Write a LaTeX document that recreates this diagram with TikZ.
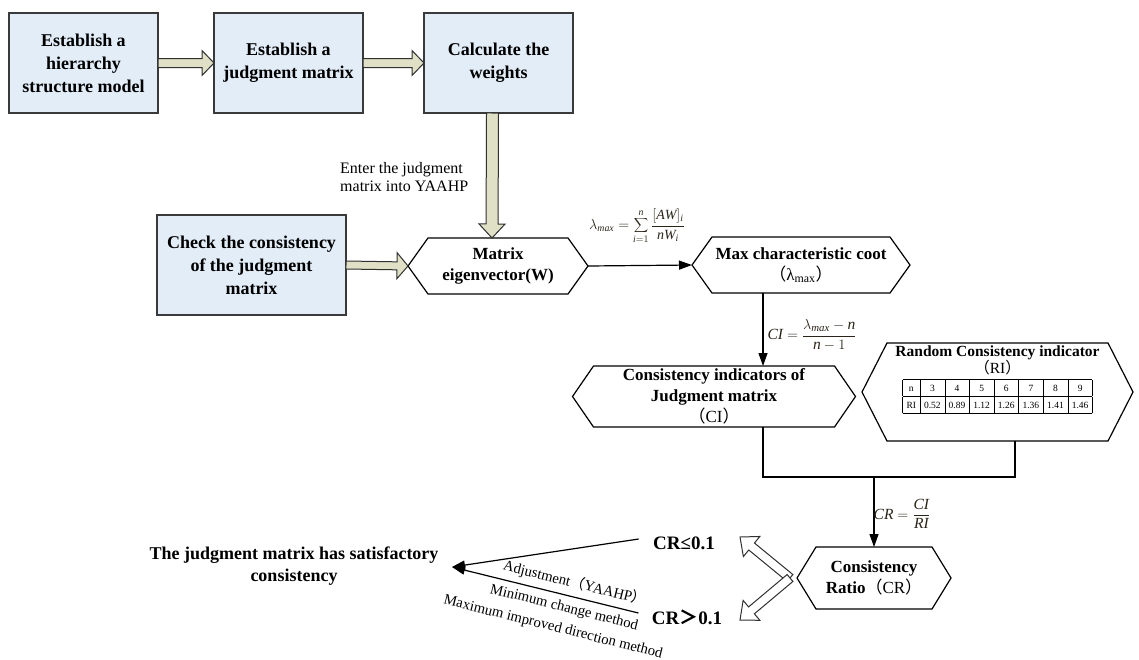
\documentclass[tikz,border=0pt]{standalone}
\usepackage{fontspec}
\setmainfont{Liberation Serif}
\newfontfamily\cjk{Noto Sans CJK SC}
\usetikzlibrary{calc,arrows.meta}
\definecolor{boxfill}{HTML}{E2EDF8}
\definecolor{boxline}{HTML}{3A3A3A}
\definecolor{arrfill}{HTML}{DFE0C6}
\definecolor{arrline}{HTML}{303030}
\definecolor{fcol}{HTML}{2A2418}
\newcommand\cpl{{\cjk （}}
\newcommand\cpr{{\cjk ）}}
\newcommand\mi[1]{\mathit{#1}}
\tikzset{
 box/.style={draw=boxline, fill=boxfill, line width=1.2pt, minimum width=149pt, minimum height=100pt,
   inner sep=0pt, outer sep=0pt, align=center, font=\fontsize{18}{23}\selectfont\bfseries},
 hexbody/.style={inner sep=0pt, outer sep=0pt, align=center, font=\fontsize{17}{21}\selectfont\bfseries},
 hexline/.style={line width=1.2pt, line join=miter},
 fat/.style n args={3}{draw=arrline, fill=arrfill, line width=1pt, line join=miter,
   to path={let \p3=($(\tikztotarget)!#3!(\tikztostart)$) in
     ($(\tikztostart)!#1!90:(\tikztotarget)$) -- ($(\p3)!#1!90:(\tikztotarget)$)
     -- ($(\p3)!#2!90:(\tikztotarget)$) -- (\tikztotarget)
     -- ($(\p3)!#2!-90:(\tikztotarget)$) -- ($(\p3)!#1!-90:(\tikztotarget)$)
     -- ($(\tikztostart)!#1!-90:(\tikztotarget)$) -- cycle}},
 hollow/.style n args={3}{fat={#1}{#2}{#3}, fill=white},
 thinarr/.style={line width=1.2pt, -{Triangle[length=13pt,width=9pt]}},
 conn/.style={line width=1.2pt},
 formula/.style={text=fcol, inner sep=0pt},
 slanted/.style={rotate=-14, inner sep=0pt, font=\fontsize{14.7}{17}\selectfont},
}
\newcommand\hexdraw[2]{\draw[hexline] (#1.north west) -- (#1.north east) -- ([xshift=#2]#1.east) coordinate (#1-r)
  -- (#1.south east) -- (#1.south west) -- ([xshift=-#2]#1.west) coordinate (#1-l) -- cycle;}
\begin{document}
\begin{tikzpicture}[x=1pt,y=-1pt]
\useasboundingbox (0,0) rectangle (1139,659);
% top boxes
\node[box] (b1) at (83.5,63) {Establish a\\hierarchy\\structure model};
\node[box] (b2) at (288.5,63) {Establish a\\judgment matrix};
\node[box] (b3) at (498.5,63) {Calculate the\\weights};
\node[box, minimum width=189pt] (chk) at (251.5,265) {Check the consistency\\of the judgment\\matrix};
% hexagons
\node[hexbody, minimum width=140pt, minimum height=56pt] (mat) at (498,266) {Matrix\\eigenvector(W)};
\hexdraw{mat}{20pt}
\node[hexbody, minimum width=178pt, minimum height=56pt] (mx) at (801,265) {Max characteristic coot\\{\mdseries\cpl λ\textsubscript{max}\cpr}};
\hexdraw{mx}{20pt}
\node[hexbody, minimum width=241pt, minimum height=61pt] (ci) at (714,396.5) {Consistency indicators of\\Judgment matrix\\{\mdseries\cpl CI\cpr}};
\hexdraw{ci}{21pt}
\node[hexbody, minimum width=221pt, minimum height=98pt] (ri) at (997.5,392) {};
\hexdraw{ri}{25pt}
\node[anchor=north, align=center, inner sep=0pt, font=\fontsize{15.5}{17}\selectfont\bfseries] (rit) at (997.5,346)
 {Random Consistency indicator\\{\mdseries\cpl RI\cpr}\\[3pt]
  {\mdseries\fontsize{9.5}{11}\selectfont\setlength\tabcolsep{4pt}\renewcommand\arraystretch{1.5}%
  \begin{tabular}{|c|c|c|c|c|c|c|c|}\hline
  n&3&4&5&6&7&8&9\\\hline
  RI&0.52&0.89&1.12&1.26&1.36&1.41&1.46\\\hline
  \end{tabular}}};
\node[hexbody, minimum width=116pt, minimum height=62pt] (cr) at (874,578) {Consistency\\Ratio{\mdseries\cpl CR\cpr}};
\hexdraw{cr}{19pt}
% fat arrows
\draw[fat={4.5pt}{12.5pt}{12pt}] (b1.east) to (b2.west);
\draw[fat={4.5pt}{12.5pt}{12pt}] (b2.east) to (b3.west);
\draw[fat={6pt}{13pt}{14pt}] ([xshift=-6pt]b3.south) to ([xshift=-6pt]mat.north);
\draw[fat={4pt}{13pt}{11pt}] (chk.east) to (mat-l);
\node[anchor=west, align=left, inner sep=0pt, font=\fontsize{16}{18.5}\selectfont] (ent) at (340,177) {Enter the judgment\\matrix into YAAHP};
% thin connectors
\draw[thinarr] (mat-r) -- (mx-l);
\node[formula, font=\fontsize{14}{16}\selectfont] (f1) at (637,226)
 {$\displaystyle\lambda_{\mi{max}}=\sum_{\mi{i}=1}^{\mi{n}}\frac{[\mi{AW}]_{\mi{i}}}{\mi{nW}_{\mi{i}}}$};
\coordinate (cx) at ([xshift=-38pt]mx.south);
\draw[thinarr] (cx) -- (cx |- ci.north);
\node[formula, font=\fontsize{15.5}{17}\selectfont] (f2) at (812,335)
 {$\displaystyle\mi{CI}=\frac{\lambda_{\mi{max}}-\mi{n}}{\mi{n}-1}$};
\coordinate (jl) at (763,477);
\coordinate (jr) at (1015,477);
\draw[conn] (ci.south -| jl) -- (jl) -- (jr) -- (ri.south -| jr);
\draw[thinarr] (cr.north |- jl) -- (cr.north);
\node[formula, font=\fontsize{15.5}{17}\selectfont] (f3) at (902,514) {$\displaystyle\mi{CR}=\frac{\mi{CI}}{\mi{RI}}$};
% decision
\coordinate (jn) at ([xshift=-7pt]cr-l);
\coordinate (up) at (740,537);
\coordinate (dn) at (740,620);
\draw[hollow={4.5pt}{13pt}{15pt}] (jn) to (up);
\draw[hollow={4.5pt}{13pt}{15pt}] (jn) to (dn);
\node[font=\fontsize{19}{22}\selectfont\bfseries] (le) at (684,543) {CR≤0.1};
\node[font=\fontsize{19}{22}\selectfont\bfseries] (gt) at (687,617) {CR{\cjk ＞}0.1};
\node[align=center, font=\fontsize{18}{22}\selectfont\bfseries] (sat) at (294,566) {The judgment matrix has satisfactory\\consistency};
\coordinate (tip) at (452,567);
\draw[thinarr] ([shift={(-11,-4)}]le.west) -- (tip);
\draw[thinarr] ([shift={(-10,-4)}]gt.west) -- (tip);
\node[slanted] (adj1) at (575,583) {Adjustment\cpl YAAHP\cpr};
\node[slanted] (adj2) at (564,608) {Minimum change method};
\node[slanted] (adj3) at (553,627.5) {Maximum improved direction method};
\end{tikzpicture}
\end{document}
